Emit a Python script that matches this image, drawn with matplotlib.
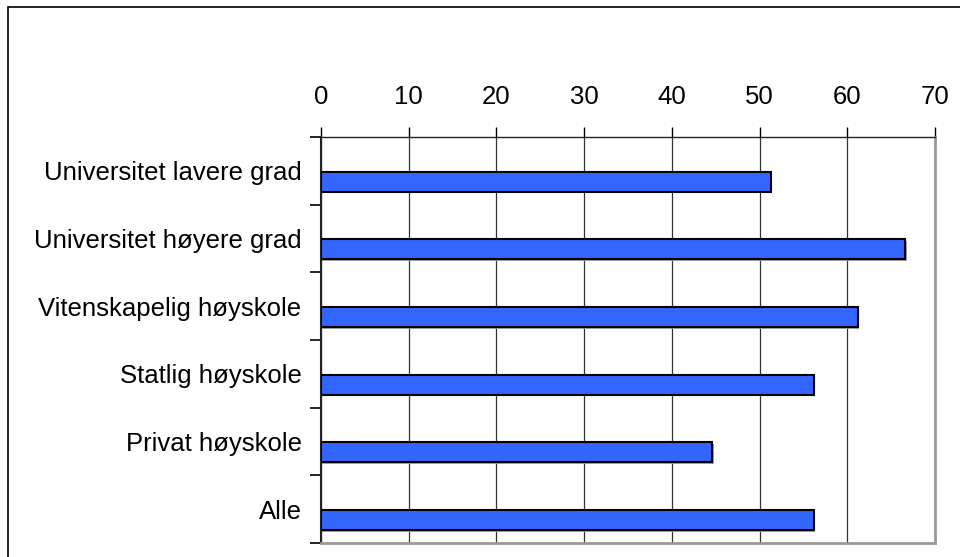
import matplotlib
matplotlib.use("Agg")
import matplotlib.pyplot as plt
import matplotlib.patheffects as pe
from matplotlib.patches import Rectangle
import numpy as np

categories = ["Universitet lavere grad", "Universitet høyere grad", "Vitenskapelig høyskole",
              "Statlig høyskole", "Privat høyskole", "Alle"]
values = [51.3, 66.6, 61.2, 56.2, 44.6, 56.2]
xticks = [0, 10, 20, 30, 40, 50, 60, 70]

plt.rcParams['font.family'] = ['Liberation Sans', 'DejaVu Sans']

fig = plt.figure(figsize=(9.6, 5.57), dpi=100)
W, H = 960, 557
# outer frame (left and top visible, extends past right/bottom)
fig.add_artist(Rectangle((8 / W, -0.05), 1.2, (H - 7) / H + 0.05, transform=fig.transFigure,
                         fill=False, edgecolor='black', linewidth=1.2))

ax = fig.add_axes([321 / W, 1 - 543 / H, (935 - 321) / W, (543 - 137) / H])

y = np.arange(len(categories))
bars = ax.barh(y + 0.16, values, height=0.3, color='#3366ff', edgecolor='black', linewidth=1.5,
               zorder=3)
for b in bars:
    b.set_path_effects([pe.SimplePatchShadow(offset=(1, -1), shadow_rgbFace='#999999', alpha=0.9),
                        pe.Normal()])

ax.set_xlim(0, 70)
ax.set_ylim(len(categories) - 0.5, -0.5)

ax.xaxis.tick_top()
ax.set_xticks(xticks)
ax.set_xticklabels([str(t) for t in xticks], fontsize=18.5)
ax.tick_params(axis='x', which='major', direction='out', length=7, width=1, color='black', pad=13)
ax.grid(axis='x', color='#333333', linewidth=0.9, zorder=0)

ax.set_yticks(y)
ax.set_yticklabels(categories, fontsize=18.5)
ax.set_yticks(np.arange(len(categories) + 1) - 0.5, minor=True)
ax.tick_params(axis='y', which='major', length=0, pad=14)
ax.tick_params(axis='y', which='minor', direction='out', length=8, width=1.2, color='black')

ax.spines['left'].set_color('#222222')
ax.spines['left'].set_linewidth(1.5)
ax.spines['top'].set_color('#222222')
ax.spines['top'].set_linewidth(1)
ax.spines['right'].set_color('#999999')
ax.spines['right'].set_linewidth(2)
ax.spines['bottom'].set_color('#999999')
ax.spines['bottom'].set_linewidth(2)

fig.savefig("out.png", dpi=100)
